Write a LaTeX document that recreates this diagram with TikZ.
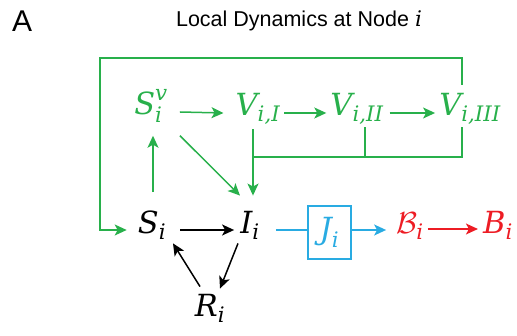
\RequirePackage{fix-cm}
\documentclass[tikz,border=0pt]{standalone}
\usepackage{amsmath}
\usepackage{fontspec}
\setmainfont{Liberation Sans}
\newfontfamily\mfont{DejaVu Serif}
\newcommand{\mi}[1]{\text{\mfont\itshape #1}}
\usetikzlibrary{arrows.meta,calc}
\definecolor{vgreen}{RGB}{40,176,75}
\definecolor{bred}{RGB}{237,28,36}
\definecolor{jblue}{RGB}{41,171,226}
\begin{document}
\begin{tikzpicture}[x=1pt,y=-1pt,
  every node/.style={inner sep=0pt},
  mathlbl/.style={font=\fontsize{30.5}{34}\selectfont, anchor=base},
  conn/.style={line width=1.5pt, -{Stealth[length=12pt,width=11pt,inset=3pt]}},
  plainline/.style={line width=1.5pt}]
\useasboundingbox (0,0) rectangle (517,336);
% labels
\node[anchor=base west, font=\fontsize{30}{32}\selectfont] (lblA) at (12,32) {A};
\node[anchor=base, font=\fontsize{21.5}{24}\selectfont] (title) at (299,27) {Local Dynamics at Node {\mfont\itshape i}};
% nodes
\node[mathlbl,text=vgreen] (Sv) at (151,115) {$\mi{S}_{\mi{i}}^{\mi{v}}$};
\node[mathlbl,text=vgreen] (V1) at (258,116) {$\mi{V}_{\mi{i,I}}$};
\node[mathlbl,text=vgreen] (V2) at (357,116) {$\mi{V}_{\mi{i,II}}$};
\node[mathlbl,text=vgreen] (V3) at (470,116) {$\mi{V}_{\mi{i,III}}$};
\node[mathlbl] (S) at (152,234) {$\mi{S}_{\mi{i}}$};
\node[mathlbl] (I) at (250,234) {$\mi{I}_{\mi{i}}$};
\node[mathlbl] (R) at (210,317) {$\mi{R}_{\mi{i}}$};
\node[draw=jblue, line width=1.5pt, minimum width=43pt, minimum height=53pt, text=jblue, font=\fontsize{30.5}{34}\selectfont] (J) at (329.5,232.5) {$\mi{J}_{\mi{i}}$};
\node[mathlbl,text=bred] (Bc) at (410,234) {$\mathcal{B}_{\mi{i}}$};
\node[mathlbl,text=bred] (B) at (498,234) {$\mi{B}_{\mi{i}}$};
% junction coordinates
\coordinate (tl) at (100,58);
\coordinate (tr) at (462,58);
\coordinate (jL) at (253,157);
\coordinate (jM) at (365,157);
\coordinate (jR) at (462,157);
% top row arrows
\draw[conn,vgreen] ($(Sv.base east)+(12,-3)$) -- ($(V1.base west)+(-12,-3)$);
\draw[conn,vgreen] ($(V1.base east)+(4,-3)$) -- ($(V2.base west)+(-4,-3)$);
\draw[conn,vgreen] ($(V2.base east)+(6,-3)$) -- ($(V3.base west)+(-4,-3)$);
% bracket from vaccinated to I
\draw[conn,vgreen] ($(jL |- V1.south)+(0,5)$) -- ($(jL |- I.north)+(0,-16)$);
\draw[plainline,vgreen] ($(jM |- V2.south)+(0,3)$) -- (jM);
\draw[plainline,vgreen] ($(jR |- V3.south)+(0,3)$) -- (jR) -- (jL);
% top loop
\draw[conn,vgreen] ($(tr |- V3.north)+(0,-9)$) -- (tr) -- (tl) |- ($(S.base west)+(-11,-4)$);
% S to Sv and Sv to I
\draw[conn,vgreen] ($(S.north)+(1,-19)$) -- ($(Sv.south)+(2,13)$);
\draw[conn,vgreen] ($(Sv.south)+(29,13)$) -- ($(I.north)+(-10,-16)$);
% SIR
\draw[conn] ($(S.base east)+(14,-4)$) -- ($(I.base west)+(-6,-4)$);
\draw[conn] ($(I.south)+(-12,4)$) -- ($(R.north)+(10,-6)$);
\draw[conn] ($(R.north)+(-10,-8)$) -- ($(S.south)+(21,4)$);
% shedding
\coordinate (mid) at ($(I.base)+(0,-4)$);
\draw[plainline,jblue] ($(I.base east)+(16,-4)$) -- (J.west |- mid);
\draw[conn,jblue] (J.east |- mid) -- ($(Bc.base west)+(-10,-4)$);
\draw[conn,bred] ($(Bc.base east)+(4,-5)$) -- ($(B.base west)+(-5,-5)$);
\end{tikzpicture}
\end{document}
